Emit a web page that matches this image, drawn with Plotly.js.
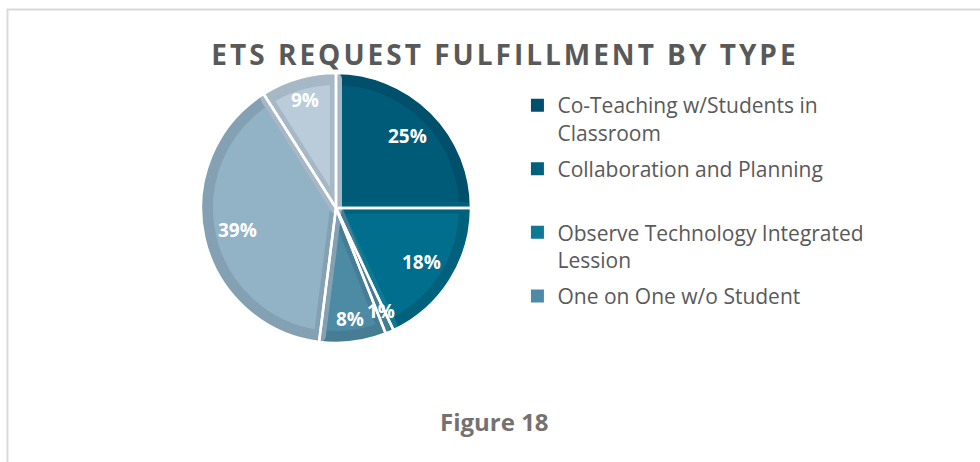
<!DOCTYPE html>
<html>
<head>
<meta charset="utf-8">
<script src="https://cdn.plot.ly/plotly-3.0.1.min.js"></script>
<style>
html,body{margin:0;padding:0;background:#fff;}
#chart{width:980px;height:462px;}
#chart .gtitle{letter-spacing:3px;}
</style>
</head>
<body>
<div id="chart"></div>
<script>
// ---- data ----
const categories = [
  "Co-Teaching w/Students in Classroom",
  "Collaboration and Planning",
  "Observe Technology Integrated Lession",
  "One on One w/o Student",
  "Category 5",
  "Category 6"
];
const values = [25, 18, 1, 8, 39, 9];
const legendNames = [
  "Co-Teaching w/Students in<br>Classroom",
  "Collaboration and Planning<br> ",
  "Observe Technology Integrated<br>Lession",
  "One on One w/o Student"
];
const fillColors   = ["#005b79", "#006e8c", "#0d7994", "#4d8aa4", "#92b2c6", "#bacbd9"];
const borderColors = ["#00506b", "#00617c", "#0d7994", "#477d94", "#84a1b4", "#a6b7c5"];
const legendColors = ["#00506b", "#00617c", "#0d7994", "#4e8aa5"];

// ---- geometry helpers (paper fractions) ----
const W = 980, H = 462;
const cx = 336, cy = 208, R = 135, inset = 6;
function dom(r) {
  return {
    x: [(cx - r) / W, (cx + r) / W],
    y: [(H - cy - r) / H, (H - cy + r) / H]
  };
}
const clear = values.map(() => 'rgba(0,0,0,0)');
const total = values.reduce((a, b) => a + b, 0);
const pctText = values.map(v => Math.round(v / total * 100) + '%');
const base = {type: 'pie', values: values, labels: categories, sort: false,
  direction: 'clockwise', rotation: 0, showlegend: false, hoverinfo: 'label+percent',
  textinfo: 'none'};

const traces = [];
traces.push(Object.assign({}, base, {
  domain: dom(R - inset),
  marker: {colors: fillColors, line: {color: borderColors, width: inset * 2}}
}));
traces.push(Object.assign({}, base, {
  domain: dom(R),
  marker: {colors: clear, line: {color: '#ffffff', width: 2.5}}
}));
legendNames.forEach((n, i) => {
  traces.push({
    type: 'scatter', mode: 'markers', x: [null], y: [null], name: n,
    legendgroup: 'g' + i,
    marker: {symbol: 'square', size: 13, color: legendColors[i]},
    showlegend: true, hoverinfo: 'skip'
  });
});

const annotations = [{
  text: '<b>Figure 18</b>', xref: 'paper', yref: 'paper',
  x: 495 / W, y: 1 - 421 / H, xanchor: 'center', yanchor: 'middle',
  showarrow: false, font: {family: 'Open Sans', size: 24, color: '#767171'}
}];
// percentage labels, placed at each slice's mid-angle (derived from the data)
let cum = 0;
values.forEach((v, i) => {
  const frac = v / total;
  const mid = (cum + v / 2) / total * 2 * Math.PI;
  cum += v;
  const r = (frac < 0.1 ? 0.83 : 0.75) * R;
  annotations.push({
    text: '<b>' + pctText[i] + '</b>', xref: 'paper', yref: 'paper',
    x: (cx + r * Math.sin(mid)) / W, y: (H - cy + r * Math.cos(mid)) / H,
    xanchor: 'center', yanchor: 'middle', showarrow: false,
    font: {family: 'Open Sans', size: 19, color: '#ffffff'}
  });
});

const layout = {
  width: W, height: H,
  margin: {l: 0, r: 0, t: 0, b: 0},
  paper_bgcolor: '#ffffff', plot_bgcolor: 'rgba(0,0,0,0)',
  font: {family: 'Open Sans', color: '#595959'},
  title: {
    text: 'ETS REQUEST FULFILLMENT BY TYPE',
    font: {family: 'Open Sans', size: 28, color: '#595959', weight: 'bold'},
    x: 505 / W, xanchor: 'center', y: 1 - 55 / H, yanchor: 'middle'
  },
  xaxis: {visible: false}, yaxis: {visible: false},
  showlegend: true,
  legend: {
    x: 0.528, xanchor: 'left', y: 1 - 85 / H, yanchor: 'top',
    valign: 'top', traceorder: 'grouped', tracegroupgap: 6,
    font: {family: 'Open Sans', size: 21, color: '#595959'},
    bgcolor: 'rgba(0,0,0,0)', itemclick: false
  },
  shapes: [{
    type: 'rect', xref: 'paper', yref: 'paper',
    x0: 7.5 / W, x1: 1.2, y0: -0.2, y1: 1 - 9.5 / H,
    line: {color: '#d9d9d9', width: 2}, fillcolor: 'rgba(0,0,0,0)', layer: 'below'
  }],
  annotations: annotations
};

Plotly.newPlot('chart', traces, layout, {displayModeBar: false, staticPlot: true});
</script>
</body>
</html>
